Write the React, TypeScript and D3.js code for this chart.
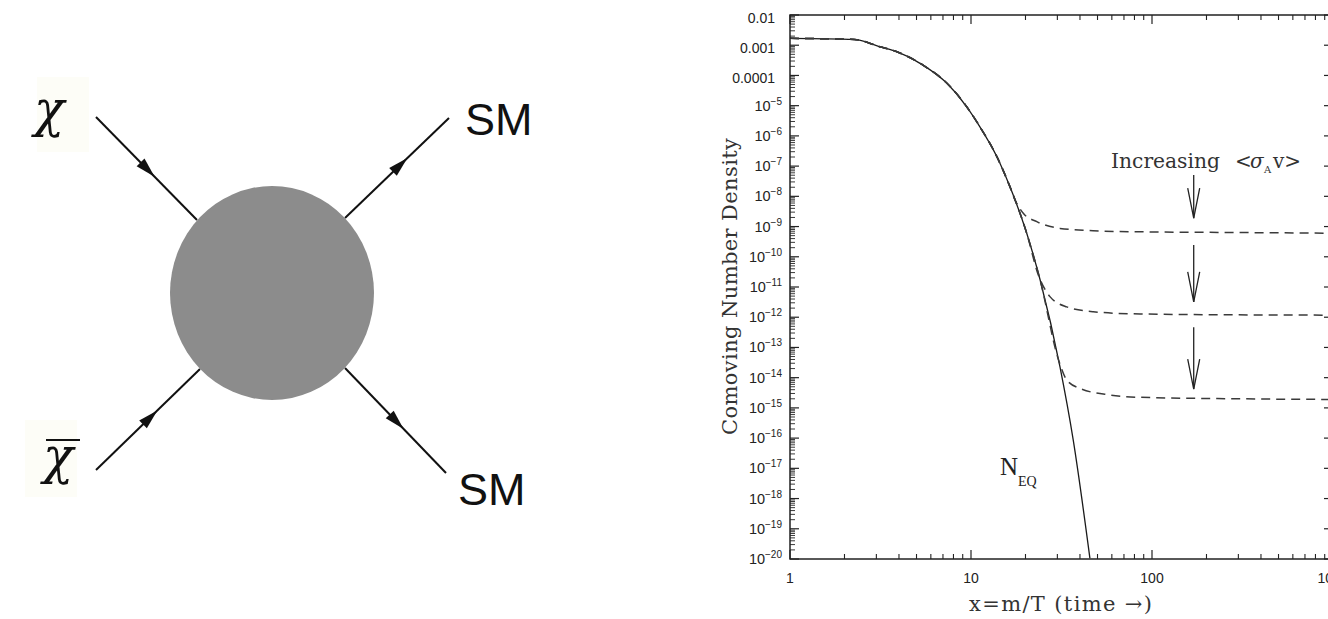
import React from "react";
import * as d3 from "d3";

// Equilibrium comoving number density N_EQ versus x = m/T
const eqX = [1, 2.26, 3.14, 3.89, 5.43, 7.34, 9.47, 11.2, 13.9, 16.4, 20.3, 24.1, 31.0, 36.7, 45.4];
const eqY = [1.69e-3, 1.55e-3, 8.9e-4, 6.1e-4, 2.2e-4, 5.6e-5, 9.2e-6, 2.0e-6, 2.05e-7, 2.1e-8, 6.1e-10, 1.7e-11, 2.3e-14, 8.7e-17, 1.05e-20];

// Freeze-out curves, one per annihilation cross section (smallest <σv> first)
const relic1X = [1, 2.26, 3.14, 3.89, 5.43, 7.34, 9.47, 11.2, 13.9, 16.4, 17.5, 19.5, 23.1, 31.0, 47.2, 85.9, 300, 1000];
const relic1Y = [1.69e-3, 1.55e-3, 8.9e-4, 6.1e-4, 2.2e-4, 5.6e-5, 9.2e-6, 2.0e-6, 2.05e-7, 2.1e-8, 7.6e-9, 2.7e-9, 1.45e-9, 8.7e-10, 7.3e-10, 6.7e-10, 6.35e-10, 6.0e-10];

const relic2X = [1, 2.26, 3.14, 3.89, 5.43, 7.34, 9.47, 11.2, 13.9, 16.4, 20.3, 23.5, 27.3, 33.8, 47.3, 85.9, 300, 1000];
const relic2Y = [1.69e-3, 1.55e-3, 8.9e-4, 6.1e-4, 2.2e-4, 5.6e-5, 9.2e-6, 2.0e-6, 2.05e-7, 2.1e-8, 6.1e-10, 2.6e-11, 4.8e-12, 2.2e-12, 1.52e-12, 1.28e-12, 1.2e-12, 1.17e-12];

const relic3X = [1, 2.26, 3.14, 3.89, 5.43, 7.34, 9.47, 11.2, 13.9, 16.4, 20.3, 24.1, 30.4, 33.8, 40.0, 58.7, 85.9, 300, 1000];
const relic3Y = [1.69e-3, 1.55e-3, 8.9e-4, 6.1e-4, 2.2e-4, 5.6e-5, 9.2e-6, 2.0e-6, 2.05e-7, 2.1e-8, 6.1e-10, 1.7e-11, 4.0e-14, 8.4e-15, 4.4e-15, 2.67e-15, 2.24e-15, 2.0e-15, 1.9e-15];

// Axis ticks
const xTickValues = [1, 10, 100, 1000];
const xTickLabels = ["1", "10", "100", "1000"];
const yTickExponents = [-2, -3, -4, -5, -6, -7, -8, -9, -10, -11, -12, -13, -14, -15, -16, -17, -18, -19, -20];

// "Increasing <σv>" arrows: x position, start and tip densities
const arrowX = [170, 170, 170];
const arrowTop = [5.1e-8, 2.45e-10, 4.7e-13];
const arrowTip = [1.9e-9, 3.2e-12, 4.2e-15];

const W = 1328;
const H = 619;

const xs = d3.scaleLog().domain([1, 1000]).range([790, 1333]);
const ys = d3.scaleLog().domain([1e-20, 1e-2]).range([559, 15]);

const zip = (a: number[], b: number[]) => a.map((v, i) => [v, b[i]] as [number, number]);

const line = d3
  .line<[number, number]>()
  .x((d) => xs(d[0]))
  .y((d) => ys(d[1]))
  .curve(d3.curveMonotoneX);

// Annihilation diagram geometry
const legs = [
  { from: [96, 117], to: [197, 220], t: 0.58 },
  { from: [96, 470], to: [200, 369], t: 0.59 },
  { from: [345, 218], to: [449, 118], t: 0.6 },
  { from: [345, 368], to: [446, 473], t: 0.58 },
];

function arrowHead(from: number[], to: number[], t: number, len = 20, half = 5.5) {
  const dx = to[0] - from[0];
  const dy = to[1] - from[1];
  const L = Math.hypot(dx, dy);
  const ux = dx / L;
  const uy = dy / L;
  const tipX = from[0] + dx * t;
  const tipY = from[1] + dy * t;
  const bx = tipX - ux * len;
  const by = tipY - uy * len;
  const nx = -uy;
  const ny = ux;
  return `M${tipX},${tipY}L${bx + nx * half},${by + ny * half}L${bx - nx * half},${by - ny * half}Z`;
}

function Diagram() {
  return (
    <g>
      <rect x={37} y={77} width={52} height={75} fill="#fdfdf7" />
      <rect x={25} y={420} width={52} height={77} fill="#fdfdf7" />
      {legs.map((l, i) => (
        <g key={i}>
          <line x1={l.from[0]} y1={l.from[1]} x2={l.to[0]} y2={l.to[1]} stroke="#111" strokeWidth={2} />
          <path d={arrowHead(l.from, l.to, l.t)} fill="#111" />
        </g>
      ))}
      <ellipse cx={272} cy={293} rx={102} ry={107} fill="#8c8c8c" />
      <text x={34} y={126} fontFamily="DejaVu Serif" fontStyle="italic" fontSize={50} fill="#111">
        χ
      </text>
      <text x={43} y={473} fontFamily="DejaVu Serif" fontStyle="italic" fontSize={50} fill="#111">
        χ
      </text>
      <line x1={46} y1={440} x2={80} y2={440} stroke="#111" strokeWidth={2.2} />
      <text x={465} y={135} fontFamily="Liberation Sans" fontSize={45} fill="#111">
        SM
      </text>
      <text x={458} y={505} fontFamily="Liberation Sans" fontSize={45} fill="#111">
        SM
      </text>
    </g>
  );
}

function Chart() {
  const [x0, x1] = xs.range();
  const [y0, y1] = ys.range();
  const majorX = xTickValues;
  const minorX: number[] = [];
  [1, 10, 100].forEach((d) => {
    for (let k = 2; k <= 9; k++) minorX.push(d * k);
  });
  const majorY = yTickExponents.map((e) => Math.pow(10, e));
  const minorY: number[] = [];
  yTickExponents.slice(1).forEach((e) => {
    for (let k = 2; k <= 9; k++) minorY.push(k * Math.pow(10, e));
  });
  const axisColor = "#222";
  const tickLen = 9;
  const minorLen = 5;

  return (
    <g>
      {/* curves */}
      <path d={line(zip(eqX, eqY)) || ""} fill="none" stroke="#1a1a1a" strokeWidth={1.3} />
      {[zip(relic1X, relic1Y), zip(relic2X, relic2Y), zip(relic3X, relic3Y)].map((s, i) => (
        <path key={i} d={line(s) || ""} fill="none" stroke="#3a3a3a" strokeWidth={1.5} strokeDasharray="9,6" />
      ))}

      {/* frame */}
      <rect x={x0} y={y1} width={x1 - x0} height={y0 - y1} fill="none" stroke={axisColor} strokeWidth={1.5} />

      {/* x ticks, bottom and top */}
      {majorX.map((v) => (
        <g key={"mx" + v}>
          <line x1={xs(v)} x2={xs(v)} y1={y0} y2={y0 - tickLen} stroke={axisColor} strokeWidth={1.2} />
          <line x1={xs(v)} x2={xs(v)} y1={y1} y2={y1 + tickLen} stroke={axisColor} strokeWidth={1.2} />
        </g>
      ))}
      {minorX.map((v) => (
        <g key={"nx" + v}>
          <line x1={xs(v)} x2={xs(v)} y1={y0} y2={y0 - minorLen} stroke={axisColor} strokeWidth={1.1} />
          <line x1={xs(v)} x2={xs(v)} y1={y1} y2={y1 + minorLen} stroke={axisColor} strokeWidth={1.1} />
        </g>
      ))}
      {/* y ticks, left and right */}
      {majorY.map((v, i) => (
        <g key={"my" + i}>
          <line x1={x0} x2={x0 + tickLen} y1={ys(v)} y2={ys(v)} stroke={axisColor} strokeWidth={1.2} />
          <line x1={x1} x2={x1 - tickLen} y1={ys(v)} y2={ys(v)} stroke={axisColor} strokeWidth={1.2} />
        </g>
      ))}
      {minorY.map((v, i) => (
        <g key={"ny" + i}>
          <line x1={x0} x2={x0 + minorLen} y1={ys(v)} y2={ys(v)} stroke={axisColor} strokeWidth={0.9} />
          <line x1={x1} x2={x1 - minorLen} y1={ys(v)} y2={ys(v)} stroke={axisColor} strokeWidth={0.9} />
        </g>
      ))}

      {/* x tick labels */}
      {majorX.map((v, i) => (
        <text key={"lx" + v} x={xs(v)} y={583} textAnchor="middle" fontFamily="Liberation Sans" fontSize={14} fill="#222">
          {xTickLabels[i]}
        </text>
      ))}
      {/* y tick labels */}
      {yTickExponents.map((e) => {
        const ty = ys(Math.pow(10, e));
        if (e >= -4) {
          const s = "0." + "0".repeat(-e - 1) + "1";
          return (
            <text key={"ly" + e} x={775} y={ty + 8} textAnchor="end" fontFamily="Liberation Sans" fontSize={14} fill="#222">
              {s}
            </text>
          );
        }
        return (
          <text key={"ly" + e} x={782} y={ty + 5} textAnchor="end" fontFamily="Liberation Sans" fontSize={14.5} fill="#222">
            10
            <tspan fontSize={10} dy={-6}>
              {"−" + -e}
            </tspan>
          </text>
        );
      })}

      {/* axis titles */}
      <text
        transform="translate(737,286.5) rotate(-90)"
        textAnchor="middle"
        fontFamily="DejaVu Serif"
        fontSize={21}
        fill="#333"
        textLength={297}
        lengthAdjust="spacing"
      >
        Comoving Number Density
      </text>
      <text x={1060.5} y={611} textAnchor="middle" fontFamily="DejaVu Serif" fontSize={21} fill="#333" textLength={183} lengthAdjust="spacing">
        x=m/T (time →)
      </text>

      {/* annotations */}
      <text x={1000} y={475} fontFamily="Liberation Serif" fontSize={25} fill="#222">
        N
        <tspan fontSize={14} dy={11}>
          EQ
        </tspan>
      </text>
      <text y={168} fontFamily="DejaVu Serif" fontSize={20} fill="#333">
        <tspan x={1111} textLength={109} lengthAdjust="spacingAndGlyphs">
          Increasing
        </tspan>
        <tspan x={1235}>&lt;</tspan>
        <tspan x={1250} fontStyle="italic">
          σ
        </tspan>
        <tspan x={1264} dy={5} fontSize={10}>
          A
        </tspan>
        <tspan x={1273} dy={-5}>
          v&gt;
        </tspan>
      </text>
      {arrowX.map((ax, i) => {
        const px = xs(ax);
        const yt = ys(arrowTop[i]);
        const yb = ys(arrowTip[i]);
        return (
          <g key={"ar" + i} stroke="#222" strokeWidth={1.3} fill="none">
            <line x1={px} x2={px} y1={yt} y2={yb} />
            <path d={`M${px - 6},${yb - 30}L${px},${yb}L${px + 6},${yb - 30}`} />
          </g>
        );
      })}
    </g>
  );
}

export default function App() {
  return (
    <svg
      width={W}
      height={H}
      viewBox={`0 0 ${W} ${H}`}
      style={{ position: "absolute", left: 0, top: 0, background: "#fff" }}
    >
      <rect width={W} height={H} fill="#fff" />
      <Diagram />
      <Chart />
    </svg>
  );
}
